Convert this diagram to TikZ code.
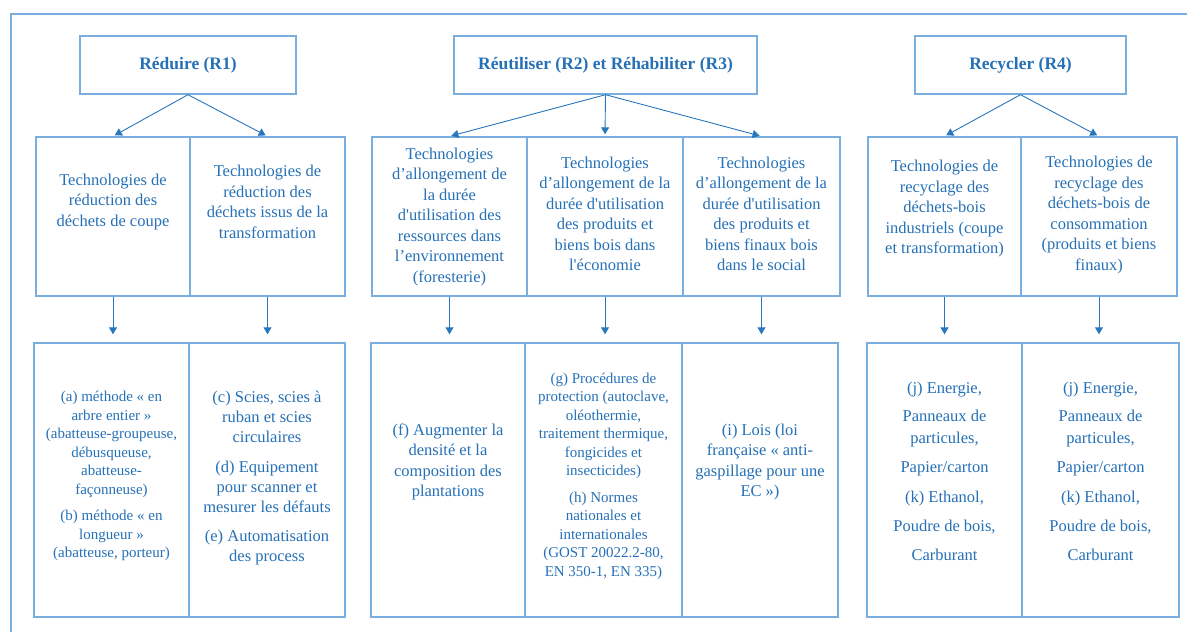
\documentclass[tikz,border=0pt]{standalone}
\usepackage{fontspec}
\setmainfont{Liberation Serif}
\usetikzlibrary{arrows.meta}
\definecolor{boxline}{RGB}{122,174,222}
\definecolor{txtblue}{RGB}{38,112,182}
\definecolor{arrblue}{RGB}{40,118,190}
\newcommand{\sq}{\textquotesingle}
\tikzset{
  boxnode/.style={draw=boxline, line width=1.4pt, inner sep=0pt},
  topbox/.style={boxnode, minimum height=58pt, text=txtblue, font=\bfseries\fontsize{17.5}{21}\selectfont},
  midbox/.style={boxnode, minimum height=159pt},
  lowbox/.style={boxnode, minimum height=274pt},
  txt/.style={text=txtblue, align=center, inner sep=0pt},
  tbig/.style={txt, font=\fontsize{16.5}{20.5}\selectfont},
  tsmall/.style={txt, font=\fontsize{15}{18.5}\selectfont},
  tlist/.style={txt, font=\fontsize{16.5}{21.7}\selectfont},
  conn/.style={draw=arrblue, line width=0.9pt, -{Triangle[width=8pt,length=7pt]}, shorten >=2pt},
  frameline/.style={draw=boxline, line width=1.8pt}
}
\begin{document}
\begin{tikzpicture}[x=1pt,y=-1pt]
\useasboundingbox (0,0) rectangle (1187,632);
\draw[frameline] (11,632) -- (11,14) -- (1187,14);

% top boxes
\node[topbox, minimum width=216pt] (r1) at (188,65) {Réduire (R1)};
\node[topbox, minimum width=303pt] (r23) at (605.5,65) {Réutiliser (R2) et Réhabiliter (R3)};
\node[topbox, minimum width=211pt] (r4) at (1020.5,65) {Recycler (R4)};

% middle boxes
\node[midbox, minimum width=154pt] (c1) at (113,216.5) {};
\node[midbox, minimum width=155pt] (c2) at (267.5,216.5) {};
\node[midbox, minimum width=155pt] (c3) at (449.5,216.5) {};
\node[midbox, minimum width=156pt] (c4) at (605,216.5) {};
\node[midbox, minimum width=157pt] (c5) at (761.5,216.5) {};
\node[midbox, minimum width=153pt] (c6) at (944.5,216.5) {};
\node[midbox, minimum width=156pt] (c7) at (1099,216.5) {};

\node[tbig] (t1) at (113,202) {Technologies de\\réduction des\\déchets de coupe};
\node[tbig] (t2) at (267.5,202) {Technologies de\\réduction des\\déchets issus de la\\transformation};
\node[tbig] (t3) at (449.5,217) {Technologies\\d’allongement de\\la durée\\d\sq utilisation des\\ressources dans\\l’environnement\\(foresterie)};
\node[tbig] (t4) at (605,214) {Technologies\\d’allongement de la\\durée d\sq utilisation\\des produits et\\biens bois dans\\l\sq économie};
\node[tbig] (t5) at (761.5,214) {Technologies\\d’allongement de la\\durée d\sq utilisation\\des produits et\\biens finaux bois\\dans le social};
\node[tbig] (t6) at (944.5,209) {Technologies de\\recyclage des\\déchets-bois\\industriels (coupe\\et transformation)};
\node[tbig] (t7) at (1099,215) {Technologies de\\recyclage des\\déchets-bois de\\consommation\\(produits et biens\\finaux)};

% bottom boxes
\node[lowbox, minimum width=155pt] (b1) at (111.5,480) {};
\node[lowbox, minimum width=156pt] (b2) at (267,480) {};
\node[lowbox, minimum width=154pt] (b3) at (448,480) {};
\node[lowbox, minimum width=157pt] (b4) at (603.5,480) {};
\node[lowbox, minimum width=156pt] (b5) at (760,480) {};
\node[lowbox, minimum width=155pt] (b6) at (944.5,480) {};
\node[lowbox, minimum width=157pt] (b7) at (1100.5,480) {};

\node[tsmall] (u1) at (111.5,476) {(a) méthode « en\\arbre entier »\\(abatteuse-groupeuse,\\débusqueuse,\\abatteuse-\\façonneuse)\\[8pt](b) méthode « en\\longueur »\\(abatteuse, porteur)};
\node[tbig, font=\fontsize{16.5}{20}\selectfont] (u2) at (267,478) {(c) Scies, scies à\\ruban et scies\\circulaires\\[10pt](d) Equipement\\pour scanner et\\mesurer les défauts\\[9pt](e) Automatisation\\des process};
\node[tbig] (u3) at (448,462) {(f) Augmenter la\\densité et la\\composition des\\plantations};
\node[tsmall] (u4) at (603.5,476) {(g) Procédures de\\protection (autoclave,\\oléothermie,\\traitement thermique,\\fongicides et\\insecticides)\\[8pt](h) Normes\\nationales et\\internationales\\(GOST 20022.2-80,\\EN 350-1, EN 335)};
\node[tbig] (u5) at (760,462) {(i) Lois (loi\\française « anti-\\gaspillage pour une\\EC »)};
\node[tlist] (u6) at (944.5,471) {(j) Energie,\\[7pt]Panneaux de\\particules,\\[7pt]Papier/carton\\[9pt](k) Ethanol,\\[7pt]Poudre de bois,\\[7pt]Carburant};
\node[tlist] (u7) at (1100.5,471) {(j) Energie,\\[7pt]Panneaux de\\particules,\\[7pt]Papier/carton\\[9pt](k) Ethanol,\\[7pt]Poudre de bois,\\[7pt]Carburant};

% connectors top -> middle
\draw[conn] (r1.south) -- (c1.north);
\draw[conn] (r1.south) -- (c2.north);
\draw[conn] (r23.south) -- (c3.north);
\draw[conn] (r23.south) -- (c4.north);
\draw[conn] (r23.south) -- (c5.north);
\draw[conn] (r4.south) -- (c6.north);
\draw[conn] (r4.south) -- (c7.north);

% connectors middle -> bottom
\foreach \c/\b in {c1/b1,c2/b2,c3/b3,c4/b4,c5/b5,c6/b6,c7/b7}{
  \draw[conn, shorten >=8pt] (\c.south) -- (\c.south |- \b.north);
}
\end{tikzpicture}
\end{document}
